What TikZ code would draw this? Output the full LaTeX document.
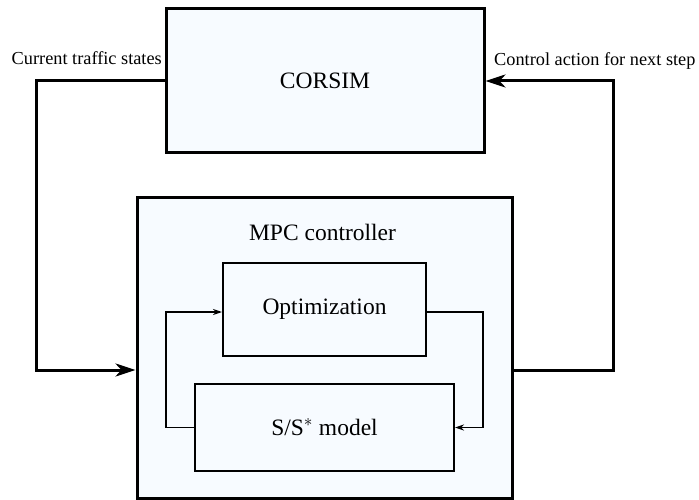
\documentclass[tikz,border=0pt]{standalone}
\usepackage{fontspec}
\setmainfont{Liberation Serif}
\usetikzlibrary{arrows.meta}
\definecolor{boxbg}{RGB}{247,251,255}
\tikzset{
  bigbox/.style={draw=black, fill=boxbg, line width=3pt, inner sep=0pt, rectangle},
  smallbox/.style={draw=black, fill=boxbg, line width=2pt, inner sep=0pt, rectangle, font=\fontsize{23.5}{28}\selectfont},
  outerline/.style={line width=3pt, -{Stealth[length=20pt,width=13pt,inset=6pt]}},
  innerline/.style={line width=1.3pt, -{Stealth[length=9pt,width=6pt,inset=3pt]}},
  lbl/.style={font=\fontsize{18.3}{22}\selectfont, inner sep=0pt},
  biglbl/.style={font=\fontsize{23.5}{28}\selectfont, inner sep=0pt}
}
\begin{document}
\begin{tikzpicture}[x=1pt,y=-1pt]
\useasboundingbox (0,0) rectangle (699,500);
% main boxes
\node[bigbox, minimum width=318pt, minimum height=144pt, font=\fontsize{23.5}{28}\selectfont] (cor) at (325,81) {CORSIM};
\node[bigbox, minimum width=375pt, minimum height=301pt] (mpc) at (324.5,347.5) {};
\node[biglbl, anchor=base] (mpclbl) at (322.5,240) {MPC controller};
\node[smallbox, minimum width=203pt, minimum height=93pt] (opt) at (324.5,309.5) {Optimization};
\node[smallbox, minimum width=259pt, minimum height=87pt] (ss) at (324.5,427.5) {S/S$^{*}$ model};
% labels
\node[lbl, anchor=base east] (lcur) at (162,65) {Current traffic states};
\node[lbl, anchor=base west] (lctl) at (494,66) {Control action for next step};
% outer connectors
\coordinate (c1) at (36,81);
\coordinate (c2) at (36,370);
\coordinate (c3) at (613,370);
\coordinate (c4) at (613,81);
\draw[outerline] (cor.west) -- (c1) -- (c2) -- (mpc.west |- c2);
\draw[outerline] (mpc.east |- c3) -- (c3) -- (c4) -- (cor.east);
% inner connectors
\coordinate (i1) at (166,427.5);
\coordinate (i2) at (166,312);
\coordinate (i3) at (483,312);
\coordinate (i4) at (483,427.5);
\draw[innerline] (ss.west) -- (i1) -- (i2) -- (opt.west |- i2);
\draw[innerline] (opt.east |- i3) -- (i3) -- (i4) -- (ss.east);
\end{tikzpicture}
\end{document}
